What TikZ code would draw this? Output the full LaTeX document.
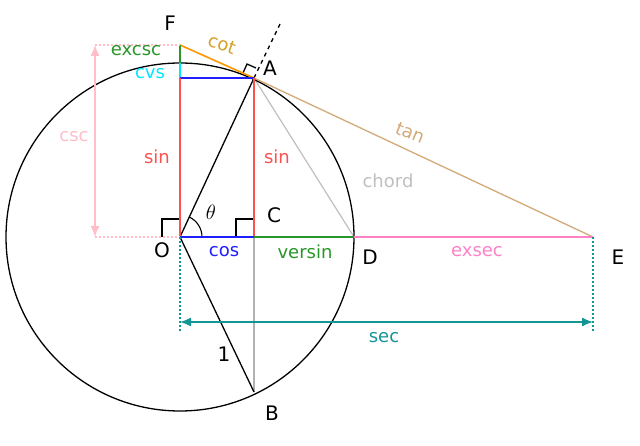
\documentclass[tikz,border=0pt]{standalone}
\usepackage{fontspec}
\setmainfont{DejaVu Sans}
\usetikzlibrary{arrows.meta}
\definecolor{cred}{RGB}{255,80,80}
\definecolor{cblue}{RGB}{30,30,255}
\definecolor{cgreen}{RGB}{40,150,40}
\definecolor{cpink}{RGB}{255,130,200}
\definecolor{clpink}{RGB}{255,190,200}
\definecolor{cteal}{RGB}{20,150,150}
\definecolor{ctan}{RGB}{210,170,120}
\definecolor{corange}{RGB}{255,150,0}
\definecolor{cgold}{RGB}{210,160,40}
\definecolor{ccyan}{RGB}{0,230,255}
\begin{document}
\begin{tikzpicture}[x=1pt,y=-1pt,line width=1.6pt,
  lbl/.style={font=\fontsize{18}{20}\selectfont,inner sep=0pt},
  pt/.style={font=\fontsize{20}{22}\selectfont,inner sep=0pt}]
\useasboundingbox (0,0) rectangle (640,446);
\coordinate (O) at (180,237);
\coordinate (A) at (254,78);
\coordinate (C) at (254,237);
\coordinate (D) at (354,237);
\coordinate (E) at (593,237);
\coordinate (F) at (180,45);
\coordinate (B) at (254,392);
\coordinate (T) at (180,63);
\coordinate (L) at (180,78);
\coordinate (Ext) at (280,24);
% chord & gray
\draw[gray!50,line width=1.2pt] (A) -- (D);
\draw[gray!60,line width=1.2pt] (A) -- (B);
% circle
\draw[black,line width=1.3pt] (O) circle (174);
\draw[black,line width=1.3pt] (O) -- (A);
\draw[black,line width=1.3pt] (O) -- (B);
\draw[black,line width=1.3pt,dash pattern=on 4pt off 4pt] (A) -- (Ext);
% right angles
\draw[black,line width=1.3pt] (O)++(-18,0) -- ++(0,-18) -- ++(18,0);
\draw[black,line width=1.3pt] (C)++(-18,0) -- ++(0,-18) -- ++(18,0);
\draw[black,line width=1.3pt] (A) ++(-11,-5) -- ++(4,-9) -- ++(9,4);
\draw[black,line width=1.1pt] (O)++(22,0) arc (0:-65:22);
% colored
\draw[ctan,line width=1.3pt] (A) -- (E);
\draw[corange] (F) -- (A);
\draw[cgreen] (F) -- (T);
\draw[ccyan] (T) -- (L);
\draw[cblue] (L) -- (A);
\draw[cred] (L) -- (O);
\draw[cred] (A) -- (C);
\draw[cblue] (O) -- (C);
\draw[cgreen] (C) -- (D);
\draw[cpink] (D) -- (E);
\draw[clpink,dotted,line width=2pt] (95,237) -- (O);
\draw[clpink,dotted,line width=2pt] (95,45) -- (F);
\draw[clpink,line width=1.3pt,{Latex[length=11pt,width=9pt]}-{Latex[length=11pt,width=9pt]}] (95,45) -- (95,237);
\draw[cteal,dotted,line width=2pt] (O) -- (180,332);
\draw[cteal,dotted,line width=2pt] (E) -- (593,332);
\draw[cteal,line width=1.3pt,{Latex[length=11pt,width=9pt]}-{Latex[length=11pt,width=9pt]}] (180,322) -- (593,322);
% labels
\node[pt] (nF) at (170,23) {F};
\node[pt] (nA) at (270,68) {A};
\node[pt] (nC) at (274,215) {C};
\node[pt] (nO) at (162,250) {O};
\node[pt] (nD) at (370,257) {D};
\node[pt] (nE) at (618,257) {E};
\node[pt] (nB) at (272,413) {B};
\node[pt] (th) at (211,212) {$\theta$};
\node[lbl,text=cgold,rotate=-20] (lcot) at (222,44) {cot};
\node[lbl,text=cgreen] (lexc) at (136,51) {excsc};
\node[lbl,text=ccyan] (lcvs) at (150,74) {cvs};
\node[lbl,text=clpink] (lcsc) at (74,137) {csc};
\node[lbl,text=cred] (lsin1) at (157,157) {sin};
\node[lbl,text=cred] (lsin2) at (277,157) {sin};
\node[lbl,text=ctan,rotate=-22] (ltan) at (410,133) {tan};
\node[lbl,text=gray!50] (lch) at (388,181) {chord};
\node[lbl,text=cblue] (lcos) at (224,252) {cos};
\node[lbl,text=cgreen] (lver) at (305,252) {versin};
\node[lbl,text=cpink] (lex) at (477,252) {exsec};
\node[lbl,text=cteal] (lsec) at (384,338) {sec};
\node[pt] (one) at (224,354) {1};
\end{tikzpicture}
\end{document}
